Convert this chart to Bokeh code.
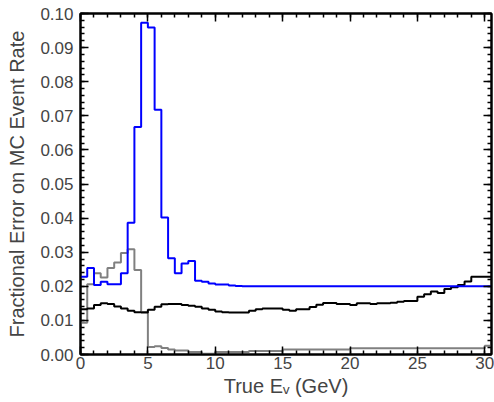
import numpy as np
from bokeh.plotting import figure
from bokeh.models import LinearAxis, FixedTicker, Range1d, NumeralTickFormatter
from bokeh.embed import file_html
from bokeh.resources import INLINE

# bin edges (GeV), 0.5 GeV bins from 0 to 30.5
bin_edges = list(np.round(np.arange(0.0, 30.51, 0.5), 2))

blue_err = [0.0228, 0.0254, 0.0204, 0.0213, 0.0206, 0.0206, 0.0238, 0.0386,
            0.0667, 0.0973, 0.0959, 0.0718, 0.0402, 0.0282, 0.0238, 0.0267,
            0.0274, 0.0216, 0.0213, 0.0208, 0.0205, 0.0205, 0.0202, 0.0201] + [0.0200] * 37

black_err = [0.0133, 0.0135, 0.0145, 0.0150, 0.0148, 0.0141, 0.0135, 0.0128,
             0.0124, 0.0123, 0.0131, 0.0140, 0.0147, 0.0148, 0.0148, 0.0145,
             0.0143, 0.0140, 0.0135, 0.0131, 0.0126, 0.0124, 0.0123, 0.0123,
             0.0123, 0.0128, 0.0133, 0.0135, 0.0135, 0.0135, 0.0131, 0.0128,
             0.0133, 0.0133, 0.0139, 0.0146, 0.0151, 0.0151, 0.0148, 0.0148,
             0.0145, 0.0150, 0.0150, 0.0148, 0.0150, 0.0150, 0.0152, 0.0155,
             0.0157, 0.0157, 0.0169, 0.0177, 0.0185, 0.0180, 0.0192, 0.0197,
             0.0204, 0.0214, 0.0228, 0.0228, 0.0228]

grey_err = [0.0093, 0.0206, 0.0238, 0.0226, 0.0254, 0.0270, 0.0298, 0.0309,
            0.0248, 0.0125, 0.0022, 0.0024, 0.0019, 0.0015, 0.0012, 0.0012,
            0.0007, 0.0007, 0.0002, 0.0002] + [0.0007] * 5 + [0.0010] * 5 + \
           [0.0015] * 10 + [0.0018] * 20 + [0.0026]

x_ticks = [0, 5, 10, 15, 20, 25, 30]
y_ticks = [0.00, 0.01, 0.02, 0.03, 0.04, 0.05, 0.06, 0.07, 0.08, 0.09, 0.10]
x_minor = list(range(0, 31))
y_minor = [round(i * 0.002, 3) for i in range(0, 51)]

FONT = "Liberation Sans"

p = figure(width=494, height=402, output_backend="svg", toolbar_location=None,
           x_range=Range1d(0, 30.5), y_range=Range1d(0, 0.10),
           min_border_left=80, min_border_right=3, min_border_top=13,
           min_border_bottom=48, x_axis_type=None, y_axis_type=None)
p.grid.visible = False
p.outline_line_color = "black"
p.outline_line_width = 2
p.background_fill_color = "white"
p.border_fill_color = "white"


def step_xy(vals):
    return bin_edges, list(vals) + [vals[-1]]


xs, ys = step_xy(grey_err)
p.step(xs, ys, mode="after", line_color="#808080", line_width=2)
xs, ys = step_xy(black_err)
p.step(xs, ys, mode="after", line_color="black", line_width=2)
xs, ys = step_xy(blue_err)
p.step(xs, ys, mode="after", line_color="#0000ff", line_width=2)


def style(ax, ticks, minor, labels=True):
    ax.ticker = FixedTicker(ticks=ticks, minor_ticks=minor)
    ax.major_tick_in = 8
    ax.major_tick_out = 0
    ax.minor_tick_in = 4
    ax.minor_tick_out = 0
    ax.axis_line_width = 2
    ax.major_tick_line_width = 1.5
    ax.minor_tick_line_width = 1.5
    if labels:
        ax.major_label_text_font = FONT
        ax.major_label_text_font_size = "17px"
        ax.axis_label_text_font = FONT
        ax.axis_label_text_font_size = "20px"
        ax.axis_label_text_font_style = "normal"
    else:
        ax.major_label_text_font_size = "0px"
        ax.major_label_standoff = 0
        ax.axis_label = None


bottom = LinearAxis(axis_label="True Eᵥ (GeV)")
style(bottom, x_ticks, x_minor)
bottom.major_label_standoff = 2
bottom.axis_label_standoff = 3
p.add_layout(bottom, "below")

left = LinearAxis(axis_label="Fractional Error on MC Event Rate")
style(left, y_ticks, y_minor)
left.formatter = NumeralTickFormatter(format="0.00")
left.major_label_standoff = 7
left.axis_label_standoff = 9
p.add_layout(left, "left")

top = LinearAxis()
style(top, x_ticks, x_minor, labels=False)
p.add_layout(top, "above")

right = LinearAxis()
style(right, y_ticks, y_minor, labels=False)
p.add_layout(right, "right")

open("out.html", "w").write(file_html(p, INLINE))
